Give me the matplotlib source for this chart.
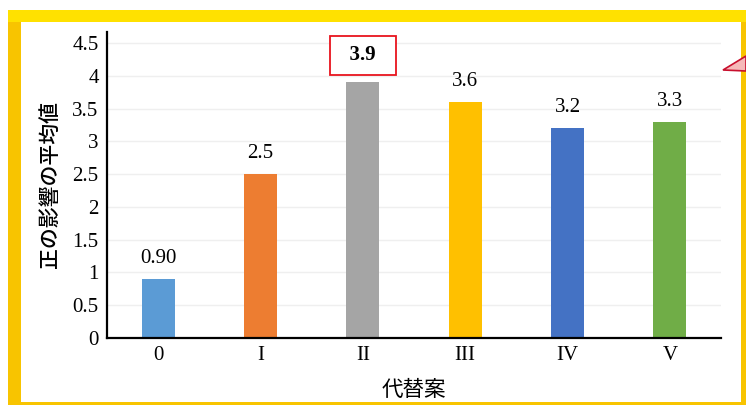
import matplotlib
matplotlib.use("Agg")
import matplotlib.pyplot as plt
from matplotlib.patches import Rectangle, Polygon

# data
categories = ["0", "I", "II", "III", "IV", "V"]
values = [0.90, 2.5, 3.9, 3.6, 3.2, 3.3]
labels = ["0.90", "2.5", "3.9", "3.6", "3.2", "3.3"]
colors = ["#5B9BD5", "#ED7D31", "#A5A5A5", "#FFC000", "#4472C4", "#70AD47"]
yticks = [0, 0.5, 1, 1.5, 2, 2.5, 3, 3.5, 4, 4.5]
highlight = 2

W, H = 746, 405
fig = plt.figure(figsize=(W / 100, H / 100), dpi=100)
fig.patch.set_facecolor("white")

def fx(px):
    return px / W

def fy(py):
    return 1 - py / H

# yellow frame (behind the axes)
fig.patches.append(Rectangle((fx(8), fy(405)), fx(746 - 8), (405 - 10) / H,
                             transform=fig.transFigure, facecolor="#F8C400",
                             edgecolor="none", zorder=-5))
fig.patches.append(Rectangle((fx(8), fy(22)), fx(746 - 8), 12 / H,
                             transform=fig.transFigure, facecolor="#FFE100",
                             edgecolor="none", zorder=-5))
fig.patches.append(Rectangle((fx(21), fy(402)), fx(741 - 21), (402 - 22) / H,
                             transform=fig.transFigure, facecolor="white",
                             edgecolor="none", zorder=-4))
# callout triangle at right edge
fig.patches.append(Polygon([(fx(723), fy(70)), (fx(746), fy(56)), (fx(746), fy(71))],
                           closed=True, transform=fig.transFigure,
                           facecolor="#F6B9B9", edgecolor="#C8102E", lw=1.2, zorder=5))

ax = fig.add_axes([fx(107), fy(338), fx(721 - 107), (338 - 32) / H])
ax.set_facecolor("none")
ax.set_zorder(1)

x = range(len(categories))
ax.bar(x, values, width=0.32, color=colors, zorder=2)

ax.set_xlim(-0.5, len(categories) - 0.5)
ax.set_ylim(0, 4.67)
ax.set_yticks(yticks)
ax.set_yticklabels([f"{t:g}" for t in yticks])
ax.set_xticks(list(x))
ax.set_xticklabels(categories)
ax.yaxis.grid(True, color="#EFEFEF", lw=1, zorder=0)
ax.set_axisbelow(True)

for s in ["top", "right"]:
    ax.spines[s].set_visible(False)
for s in ["left", "bottom"]:
    ax.spines[s].set_linewidth(1.6)
    ax.spines[s].set_color("black")

ax.tick_params(length=0, labelsize=15, pad=6)
for t in ax.get_xticklabels() + ax.get_yticklabels():
    t.set_fontfamily("Liberation Serif")

for i, (v, lab) in enumerate(zip(values, labels)):
    if i == highlight:
        # highlighted value in a red box
        ax.annotate("  " + lab + "  ", (i, v), xytext=(0, 19.5), textcoords="offset points",
                    ha="center", va="center", fontsize=15, fontweight="bold",
                    fontfamily="Liberation Serif",
                    bbox=dict(boxstyle="square,pad=0.45", fc="white",
                              ec="#E8141E", lw=1.3))
    else:
        ax.annotate(lab, (i, v), xytext=(0, 8), textcoords="offset points",
                    ha="center", va="bottom", fontsize=15,
                    fontfamily="Liberation Serif")

ax.set_ylabel("正の影響の平均値", fontsize=15, fontfamily=["Noto Sans CJK JP", "DejaVu Sans"],
              fontweight="medium", labelpad=8)
ax.set_xlabel("代替案", fontsize=15.5, fontfamily=["Noto Sans CJK JP", "DejaVu Sans"],
              labelpad=10)

fig.savefig("out.png", dpi=100)
